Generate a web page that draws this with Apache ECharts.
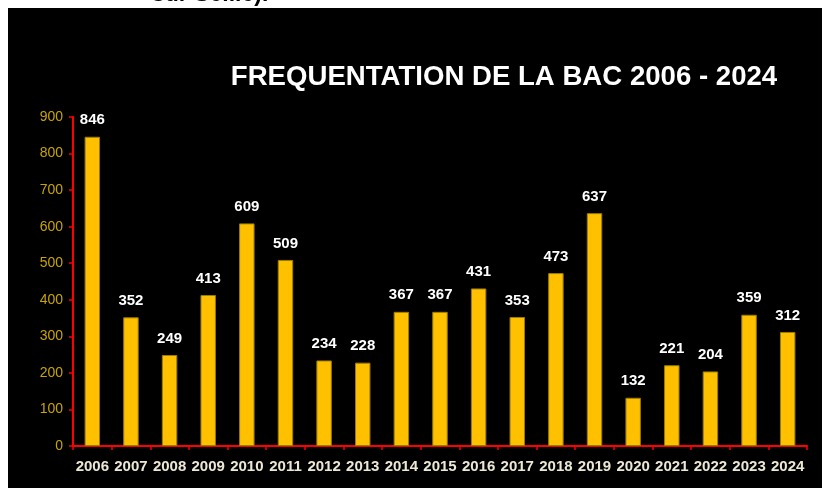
<!DOCTYPE html>
<html>
<head>
<meta charset="utf-8">
<script src="https://cdn.jsdelivr.net/npm/echarts@6/dist/echarts.min.js"></script>
<style>
html,body{margin:0;padding:0;background:#fff;width:824px;height:488px;overflow:hidden;}
#panel{position:absolute;left:8px;top:8px;width:814px;height:480px;background:#000;}
#chart{position:absolute;left:0;top:0;width:824px;height:488px;}
</style>
</head>
<body>
<div id="panel"></div>
<div id="chart"></div>
<script>
const titleText = 'FREQUENTATION DE LA BAC 2006 - 2024';
const topText = 'sur Seille).';
const years = ['2006','2007','2008','2009','2010','2011','2012','2013','2014','2015','2016','2017','2018','2019','2020','2021','2022','2023','2024'];
const visitors = [846,352,249,413,609,509,234,228,367,367,431,353,473,637,132,221,204,359,312];
const yTicks = [0,100,200,300,400,500,600,700,800,900];

const chart = echarts.init(document.getElementById('chart'), null, {renderer:'canvas'});
chart.setOption({
  backgroundColor: 'transparent',
  animation: false,
  title: {
    text: titleText,
    left: 499, top: 58, textAlign: 'center',
    textStyle: {color:'#ffffff', fontSize:27.6, fontWeight:'bold', fontFamily:'Liberation Sans, Arial, sans-serif'}
  },
  graphic: [{
    type:'text', left:152, top:-17,
    style:{text:topText, fill:'#000', font:'bold 23px "Liberation Sans", Arial, sans-serif'}
  }],
  grid: {left:73, right:17, top:117, bottom:42},
  xAxis: {
    type:'category', data: years,
    axisLine:{lineStyle:{color:'#ff0000', width:2}},
    axisTick:{show:true, length:4, lineStyle:{color:'#ff0000', width:1.5}},
    axisLabel:{interval:0, color:'#ECE8D4', fontSize:15, fontWeight:'bold', margin:13, fontFamily:'Liberation Sans, Arial, sans-serif'}
  },
  yAxis: {
    type:'value', min:yTicks[0], max:yTicks[yTicks.length-1], interval:100,
    splitLine:{show:false},
    axisLine:{show:true, lineStyle:{color:'#ff0000', width:2}},
    axisTick:{show:true, length:4, lineStyle:{color:'#ff0000', width:1.5}},
    axisLabel:{color:'#C8A400', fontSize:14, margin:10, fontFamily:'Liberation Sans, Arial, sans-serif'}
  },
  series: [{
    type:'bar', data: visitors, barWidth:'40%',
    itemStyle:{color:'#FFC000', borderColor:'#9C7C00', borderWidth:1},
    label:{show:true, position:'top', distance:9, color:'#ffffff', fontSize:15, fontWeight:'bold', fontFamily:'Liberation Sans, Arial, sans-serif'}
  }]
});
</script>
</body>
</html>
